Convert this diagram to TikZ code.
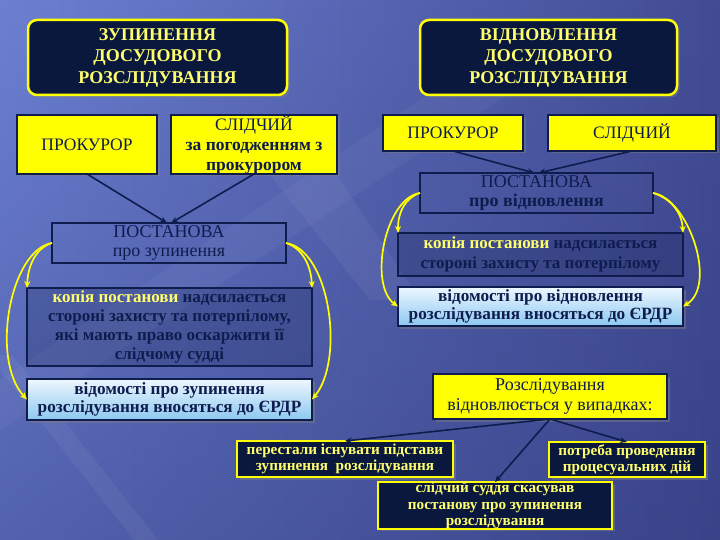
\documentclass[tikz,border=0pt]{standalone}
\usepackage{fontspec}
\setmainfont{Liberation Serif}
\usetikzlibrary{arrows.meta,shadows,fadings}

\definecolor{bgL}{RGB}{108,128,210}
\definecolor{bgR}{RGB}{66,76,148}
\definecolor{bgD}{RGB}{44,54,120}
\definecolor{navy}{RGB}{10,24,62}
\definecolor{ink}{RGB}{14,28,78}
\definecolor{ylw}{RGB}{255,255,0}
\definecolor{ltxt}{RGB}{255,255,110}
\definecolor{skyA}{RGB}{238,247,255}
\definecolor{skyB}{RGB}{140,200,240}
\tikzfading[name=fadedown, top color=transparent!100, bottom color=transparent!0]

\newcommand\bx[7]{\node[#2, minimum width={#5-#3}, minimum height={#6-#4}] (#1) at ({(#3+#5)/2},{(#4+#6)/2}) {#7};}

\tikzset{
  base/.style={inner sep=0pt, outer sep=0pt, align=center},
  shad/.style={drop shadow={shadow xshift=2.5pt, shadow yshift=-2.5pt, opacity=0.45}},
  titlebox/.style={base, shad, draw=ylw, line width=2.5pt, fill=navy, rounded corners=9pt, text=ltxt,
    font=\bfseries\fontsize{18}{21.5}\selectfont},
  ybox/.style={base, shad, draw=ink, line width=2pt, fill=ylw, text=ink, font=\fontsize{17.5}{20}\selectfont},
  obox/.style={base, draw=ink, line width=1.8pt, text=ink, font=\fontsize{18}{19.5}\selectfont},
  kbox/.style={base, draw=ink, line width=1.8pt, fill=navy, fill opacity=0.2, text opacity=1, text=ink,
    font=\bfseries\fontsize{17}{19.2}\selectfont},
  vbox/.style={base, shad, draw=ink, line width=1.8pt, top color=skyA, bottom color=skyB, text=ink,
    font=\bfseries\fontsize{17.2}{18.5}\selectfont},
  rbox/.style={base, shad, draw=ink, line width=2pt, fill=ylw, text=ink, font=\fontsize{18}{20}\selectfont},
  nbox/.style={base, shad, draw=ylw, line width=1.8pt, fill=navy, text=ltxt, font=\bfseries\fontsize{15.2}{16.5}\selectfont},
  darr/.style={draw=ink, line width=1.6pt, -{Stealth[length=7pt,width=6pt]}},
  yarr/.style={draw=ylw, line width=1.7pt, -{Stealth[length=7pt,width=6pt]}}
}

\begin{document}
\begin{tikzpicture}[x=1pt,y=-1pt]
\useasboundingbox (0,0) rectangle (720,540);
\shade[left color=bgL, right color=bgR] (0,0) rectangle (720,540);
\fill[bgD, path fading=fadedown, opacity=0.4] (0,0) rectangle (720,540);
\fill[white, opacity=0.05] (-12,355) -- (12,355) -- (158,540) -- (134,540) -- cycle;
\fill[white, opacity=0.05] (250,150) -- (320,150) -- (420,300) -- (370,300) -- cycle;
\fill[white, opacity=0.04] (0,380) -- (480,60) -- (560,60) -- (0,430) -- cycle;

% titles
\bx{tl}{titlebox}{28}{20}{287}{95}{ЗУПИНЕННЯ\\ДОСУДОВОГО\\РОЗСЛІДУВАННЯ}
\bx{tr}{titlebox}{420}{20}{677}{95}{ВІДНОВЛЕННЯ\\ДОСУДОВОГО\\РОЗСЛІДУВАННЯ}

% left panel
\bx{pl}{ybox}{17}{115}{157}{174}{ПРОКУРОР}
\bx{sl}{ybox}{171}{115}{337}{174}{СЛІДЧИЙ\\{\bfseries за погодженням з}\\{\bfseries прокурором}}
\bx{pz}{obox}{52}{223}{286}{263}{ПОСТАНОВА\\про зупинення}
\bx{kl}{kbox}{27}{288}{312}{366}{{\color{ltxt}копія постанови} надсилається\\стороні захисту та потерпілому,\\які мають право оскаржити її\\слідчому судді}
\bx{vl}{vbox}{27}{379}{312}{420}{відомості про зупинення\\розслідування вносяться до ЄРДР}

% right panel
\bx{pr}{ybox}{383}{115}{523}{151}{ПРОКУРОР}
\bx{sr}{ybox}{548}{115}{716}{151}{СЛІДЧИЙ}
\bx{pv}{obox}{420}{173}{653}{213}{ПОСТАНОВА\\{\bfseries про відновлення}}
\bx{kr}{kbox}{398}{233}{683}{276}{{\color{ltxt}копія постанови} надсилається\\стороні захисту та потерпілому}
\bx{vr}{vbox}{398}{287}{683}{326}{відомості про відновлення\\розслідування вносяться до ЄРДР}

% bottom
\bx{rv}{rbox}{433}{374}{667}{419}{Розслідування\\відновлюється у випадках:}
\bx{pe}{nbox}{237}{441}{453}{477}{перестали існувати підстави\\зупинення\ \ розслідування}
\bx{po}{nbox}{549}{442}{705}{477}{потреба проведення\\процесуальних дій}
\bx{ss}{nbox}{378}{487}{612}{524}{слідчий суддя скасував\\постанову про зупинення\\розслідування}

% dark arrows
\draw[darr] (pl.south) -- ([xshift=-2pt]pz.north);
\draw[darr] (sl.south) -- ([xshift=2pt]pz.north);
\draw[darr] (pr.south) -- ([xshift=-2pt]pv.north);
\draw[darr] (sr.south) -- ([xshift=2pt]pv.north);
\draw[darr] (rv.south) -- (pe.north);
\draw[darr] (rv.south) -- (ss.north);
\draw[darr] (rv.south) -- (po.north);

% yellow arrows left panel
\draw[yarr] (pz.west) .. controls (36,248) and (28,265) .. (kl.north west);
\draw[yarr] (pz.west) .. controls (10,250) and (-10,360) .. (vl.west);
\draw[yarr] (pz.east) .. controls (302,248) and (311,265) .. (kl.north east);
\draw[yarr] (pz.east) .. controls (330,250) and (345,360) .. (vl.east);
% yellow arrows right panel
\draw[yarr] (pv.west) .. controls (405,198) and (398,212) .. (kr.north west);
\draw[yarr] (pv.west) .. controls (385,198) and (368,285) .. (vr.west);
\draw[yarr] (pv.east) .. controls (670,198) and (682,212) .. (kr.north east);
\draw[yarr] (pv.east) .. controls (688,198) and (718,285) .. (vr.east);
\end{tikzpicture}
\end{document}
